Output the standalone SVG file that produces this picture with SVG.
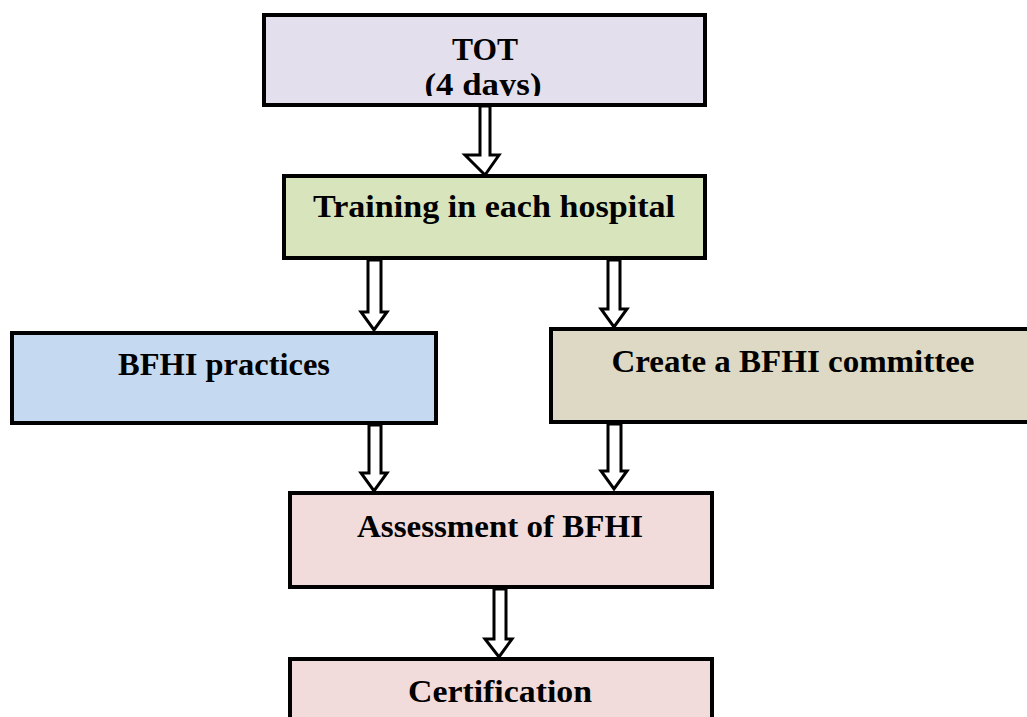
<svg xmlns="http://www.w3.org/2000/svg" width="1027" height="717" viewBox="0 0 1027 717">
<style>
.box{stroke:#000;stroke-width:4}
.t{font-family:"Liberation Serif","DejaVu Serif",serif;font-weight:bold;font-size:31px;fill:#000;text-anchor:middle}
.arr{fill:#fff;stroke:#000;stroke-width:3;stroke-linejoin:miter}
</style>
<defs>
<clipPath id="clipTot"><rect x="264" y="15" width="441" height="81"/></clipPath>
</defs>
<rect width="1027" height="717" fill="#fff"/>
<g id="tot">
<rect class="box" x="264" y="15" width="441" height="90" fill="#e4dfec"/>
<text class="t" x="485" y="60" textLength="66" lengthAdjust="spacingAndGlyphs">TOT</text>
<text class="t" x="483" y="95" clip-path="url(#clipTot)" textLength="117" lengthAdjust="spacingAndGlyphs">(4 days)</text>
</g>
<g id="training">
<rect class="box" x="284" y="176" width="421" height="82" fill="#d8e4bc"/>
<text class="t" x="494" y="217" textLength="362" lengthAdjust="spacingAndGlyphs">Training in each hospital</text>
</g>
<g id="practices">
<rect class="box" x="12" y="333" width="424" height="90" fill="#c5d9f1"/>
<text class="t" x="224" y="375" textLength="212" lengthAdjust="spacingAndGlyphs">BFHI practices</text>
</g>
<g id="committee">
<rect class="box" x="551" y="329" width="490" height="93" fill="#ddd9c4"/>
<text class="t" x="793" y="372" textLength="363" lengthAdjust="spacingAndGlyphs">Create a BFHI committee</text>
</g>
<g id="assessment">
<rect class="box" x="290" y="493" width="422" height="94" fill="#f2dcdb"/>
<text class="t" x="500" y="537" textLength="286" lengthAdjust="spacingAndGlyphs">Assessment of BFHI</text>
</g>
<g id="certification">
<rect class="box" x="290" y="659" width="422" height="80" fill="#f2dcdb"/>
<text class="t" x="500" y="702" textLength="184" lengthAdjust="spacingAndGlyphs">Certification</text>
</g>
<g id="connectors">
<path class="arr" d="M480,106 V155 H465 L485,175 L499,155 H490 V106 Z"/>
<path class="arr" d="M368,260 V312 H361 L374,330 L387,312 H381 V260 Z"/>
<path class="arr" d="M608,260 V309 H601 L614,327 L627,309 H620 V260 Z"/>
<path class="arr" d="M369,425 V473 H361 L374,491 L387,473 H381 V425 Z"/>
<path class="arr" d="M608,424 V471 H601 L614,489 L627,471 H621 V424 Z"/>
<path class="arr" d="M494,589 V639 H485 L499,657 L512,639 H506 V589 Z"/>
</g>
</svg>
